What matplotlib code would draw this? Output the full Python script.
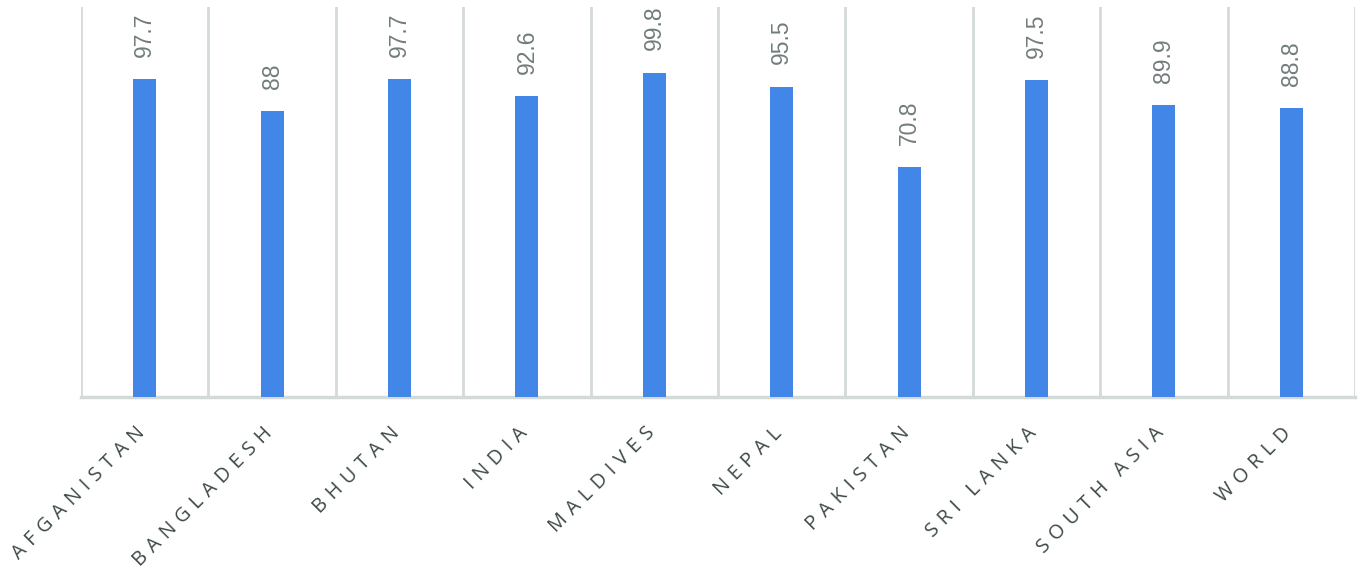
import matplotlib
matplotlib.use("Agg")
import matplotlib.pyplot as plt
import numpy as np

categories = ["AFGANISTAN", "BANGLADESH", "BHUTAN", "INDIA", "MALDIVES",
              "NEPAL", "PAKISTAN", "SRI LANKA", "SOUTH ASIA", "WORLD"]
values = [97.7, 88, 97.7, 92.6, 99.8, 95.5, 70.8, 97.5, 89.9, 88.8]
value_labels = ["97.7", "88", "97.7", "92.6", "99.8", "95.5", "70.8", "97.5", "89.9", "88.8"]

bar_color = "#4287E8"
grid_color = "#D3DAD8"
label_color = "#3E4949"
value_color = "#737C7C"

fig = plt.figure(figsize=(13.59, 5.69), dpi=100)
ax = fig.add_axes([81/1359, 1-397/569, (1355-81)/1359, (397-7)/569])

x = np.arange(len(categories))
ax.bar(x, values, width=0.18, color=bar_color, zorder=3)
ax.set_xlim(-0.5, len(categories) - 0.5)
ax.set_ylim(0, 120)

for b in np.arange(-0.5, len(categories), 1.0):
    ax.axvline(b, color=grid_color, lw=2, zorder=1)

for s in ["top", "right", "left"]:
    ax.spines[s].set_visible(False)
ax.spines["bottom"].set_color(grid_color)
ax.spines["bottom"].set_linewidth(2.5)
ax.set_yticks([])
ax.set_xticks(x)
ax.set_xticklabels([])
ax.tick_params(axis="x", length=0)

J = "\u2009\u2009"
def spaced(t):
    return J.join(t.replace(" ", "\u2009"))

for xi, c in zip(x, categories):
    ax.annotate(spaced(c), (xi, 0), xytext=(-2, -24), textcoords="offset points",
                rotation=45, ha="right", va="center", rotation_mode="anchor",
                fontsize=14.3, color=label_color, annotation_clip=False,
                family=["Open Sans", "DejaVu Sans"])

for xi, v, lab in zip(x, values, value_labels):
    ax.annotate(lab, (xi, v), xytext=(0, 16), textcoords="offset points",
                rotation=90, ha="center", va="bottom", fontsize=16.5,
                color=value_color, family=["Liberation Sans", "DejaVu Sans"])

fig.savefig("out.png", dpi=100)
